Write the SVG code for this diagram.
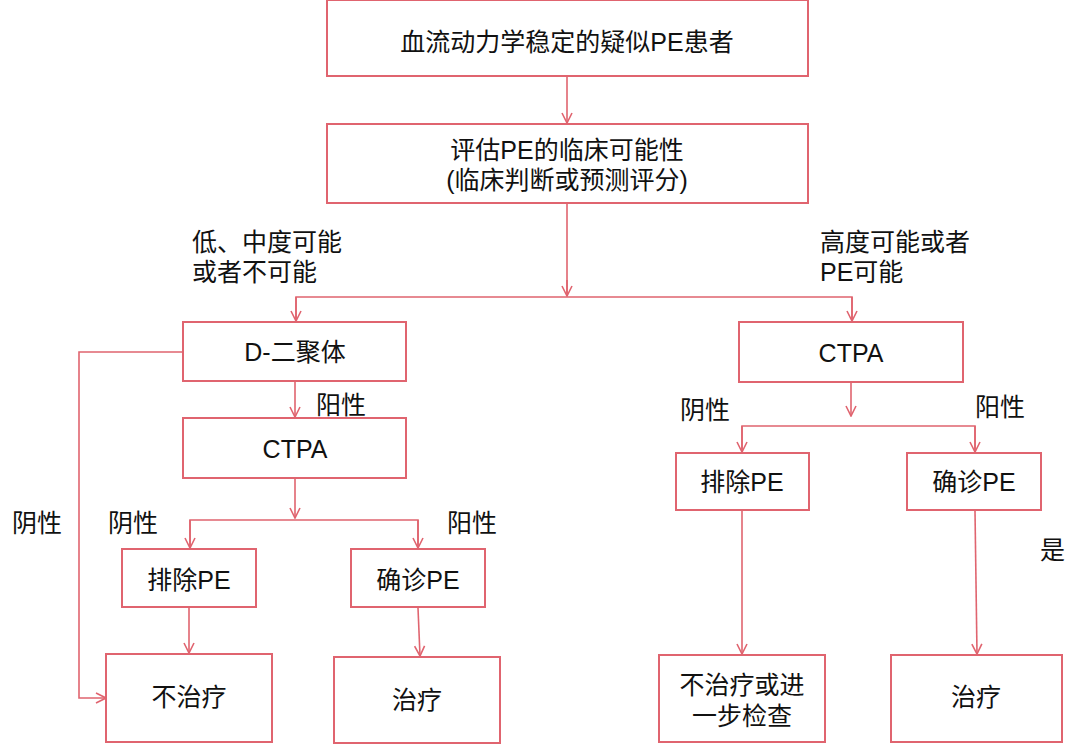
<svg xmlns="http://www.w3.org/2000/svg" width="1080" height="745" viewBox="0 0 1080 745">
<defs>
<style>
.box{fill:#fff;stroke:#E0646F;stroke-width:2}
.ln{fill:none;stroke:#E0646F;stroke-width:1.6}
text{font-family:"Liberation Sans","Noto Sans CJK SC",sans-serif;font-size:25px;fill:#111}
.c{text-anchor:middle}
</style>
<marker id="ar" viewBox="0 0 12 12" refX="11" refY="6" markerWidth="12" markerHeight="12" markerUnits="userSpaceOnUse" orient="auto">
<path d="M1,1 L11,6 L1,11" fill="none" stroke="#E0646F" stroke-width="1.6"/>
</marker>
</defs>
<rect width="1080" height="745" fill="#fff"/>
<g id="connectors">
<path class="ln" d="M567,76 V123" marker-end="url(#ar)"/>
<path class="ln" d="M567,204 V296"/>
<path class="ln" d="M567,280 V296" marker-end="url(#ar)"/>
<path class="ln" d="M296,321 V297 H852 V321" />
<path class="ln" d="M296,297 V321" marker-end="url(#ar)"/>
<path class="ln" d="M852,297 V321" marker-end="url(#ar)"/>
<path class="ln" d="M183,352 H79 V698 H106" marker-end="url(#ar)"/>
<path class="ln" d="M295,382 V417" marker-end="url(#ar)"/>
<path class="ln" d="M295,479 V518" marker-end="url(#ar)"/>
<path class="ln" d="M190,548 V520 H418 V548"/>
<path class="ln" d="M190,520 V548" marker-end="url(#ar)"/>
<path class="ln" d="M418,520 V548" marker-end="url(#ar)"/>
<path class="ln" d="M189,608 V653" marker-end="url(#ar)"/>
<path class="ln" d="M418,608 L420,656" marker-end="url(#ar)"/>
<path class="ln" d="M851,383 V416" marker-end="url(#ar)"/>
<path class="ln" d="M742,452 V426 H975 V452"/>
<path class="ln" d="M742,426 V452" marker-end="url(#ar)"/>
<path class="ln" d="M975,426 V452" marker-end="url(#ar)"/>
<path class="ln" d="M742,511 V654" marker-end="url(#ar)"/>
<path class="ln" d="M975,511 L977,654" marker-end="url(#ar)"/>
</g>
<g id="n1"><rect class="box" x="327" y="0" width="481" height="76"/><text class="c" x="567" y="51">血流动力学稳定的疑似PE患者</text></g>
<g id="n2"><rect class="box" x="327" y="124" width="481" height="79"/><text class="c" x="567" y="159">评估PE的临床可能性</text><text class="c" x="567" y="189">(临床判断或预测评分)</text></g>
<g id="lbl-low"><text x="192" y="251">低、中度可能</text><text x="192" y="281">或者不可能</text></g>
<g id="lbl-high"><text x="820" y="251">高度可能或者</text><text x="820" y="281">PE可能</text></g>
<g id="n3"><rect class="box" x="183" y="322" width="223" height="59"/><text class="c" x="295" y="361">D-二聚体</text></g>
<g id="lbl-pos1"><text x="316" y="414">阳性</text></g>
<g id="n4"><rect class="box" x="183" y="418" width="223" height="60"/><text class="c" x="295" y="458">CTPA</text></g>
<g id="lbl-neg-left"><text x="12" y="532">阴性</text></g>
<g id="lbl-neg2"><text x="108" y="532">阴性</text></g>
<g id="lbl-pos2"><text x="447" y="532">阳性</text></g>
<g id="n5"><rect class="box" x="122" y="549" width="134" height="58"/><text class="c" x="189" y="589">排除PE</text></g>
<g id="n6"><rect class="box" x="351" y="549" width="134" height="58"/><text class="c" x="418" y="589">确诊PE</text></g>
<g id="n7"><rect class="box" x="106" y="654" width="166" height="88"/><text class="c" x="189" y="706">不治疗</text></g>
<g id="n8"><rect class="box" x="334" y="657" width="166" height="86"/><text class="c" x="417" y="709">治疗</text></g>
<g id="n9"><rect class="box" x="739" y="322" width="224" height="60"/><text class="c" x="851" y="362">CTPA</text></g>
<g id="lbl-neg3"><text x="680" y="419">阴性</text></g>
<g id="lbl-pos3"><text x="975" y="416">阳性</text></g>
<g id="n10"><rect class="box" x="676" y="453" width="133" height="57"/><text class="c" x="742" y="491">排除PE</text></g>
<g id="n11"><rect class="box" x="907" y="453" width="134" height="57"/><text class="c" x="974" y="491">确诊PE</text></g>
<g id="lbl-yes"><text x="1040" y="559">是</text></g>
<g id="n12"><rect class="box" x="659" y="655" width="166" height="87"/><text class="c" x="742" y="694">不治疗或进</text><text class="c" x="742" y="725">一步检查</text></g>
<g id="n13"><rect class="box" x="891" y="655" width="171" height="87"/><text class="c" x="976" y="706">治疗</text></g>
</svg>
